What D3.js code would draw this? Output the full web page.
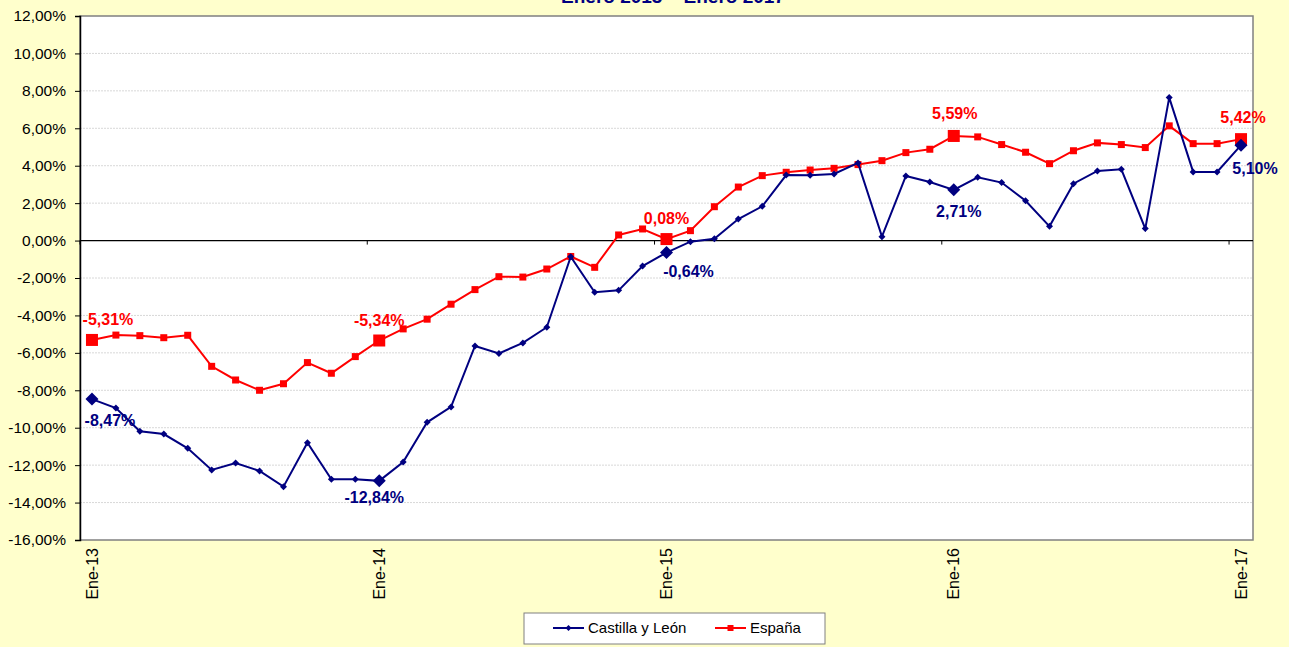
<!DOCTYPE html>
<html lang="es">
<head>
<meta charset="UTF-8">
<script src="https://d3js.org/d3.v7.min.js"></script>
<style>
    body { margin: 0; background: #FFFFCC; overflow: hidden; }
    svg { display: block; font-family: "Liberation Sans", Arial, sans-serif; }
</style>
</head>
<body>
<svg id="chart" width="1289" height="647"></svg>
<script>
    // Data
    const categories = [
        "Ene-13","Feb-13","Mar-13","Abr-13","May-13","Jun-13","Jul-13","Ago-13","Sep-13","Oct-13","Nov-13","Dic-13",
        "Ene-14","Feb-14","Mar-14","Abr-14","May-14","Jun-14","Jul-14","Ago-14","Sep-14","Oct-14","Nov-14","Dic-14",
        "Ene-15","Feb-15","Mar-15","Abr-15","May-15","Jun-15","Jul-15","Ago-15","Sep-15","Oct-15","Nov-15","Dic-15",
        "Ene-16","Feb-16","Mar-16","Abr-16","May-16","Jun-16","Jul-16","Ago-16","Sep-16","Oct-16","Nov-16","Dic-16",
        "Ene-17"
    ];
    const castilla = [
        -8.47, -8.95, -10.19, -10.34, -11.10, -12.26, -11.89, -12.31, -13.15, -10.80, -12.76, -12.76,
        -12.84, -11.83, -9.71, -8.89, -5.63, -6.03, -5.47, -4.63, -0.86, -2.76, -2.66, -1.36,
        -0.64, -0.06, 0.10, 1.15, 1.83, 3.50, 3.49, 3.56, 4.15, 0.21, 3.45, 3.13,
        2.71, 3.38, 3.10, 2.13, 0.76, 3.04, 3.72, 3.81, 0.64, 7.64, 3.67, 3.67,
        5.10
    ];
    const espana = [
        -5.31, -5.05, -5.08, -5.19, -5.06, -6.72, -7.45, -8.00, -7.65, -6.52, -7.09, -6.20,
        -5.34, -4.72, -4.20, -3.40, -2.62, -1.93, -1.95, -1.52, -0.85, -1.43, 0.30, 0.62,
        0.08, 0.53, 1.81, 2.86, 3.47, 3.65, 3.77, 3.86, 4.06, 4.27, 4.70, 4.88,
        5.59, 5.54, 5.13, 4.72, 4.11, 4.80, 5.22, 5.13, 4.97, 6.13, 5.18, 5.18,
        5.42
    ];
    const yTicks = [-16, -14, -12, -10, -8, -6, -4, -2, 0, 2, 4, 6, 8, 10, 12];
    const xLabels = ["Ene-13", "Ene-14", "Ene-15", "Ene-16", "Ene-17"];
    const title = "Enero 2013 – Enero 2017";

    // labelled points (every January) with offsets of the label
    const espLabels = [
        { i: 0, dx: 16, dy: -15 }, { i: 12, dx: 0, dy: -15 }, { i: 24, dx: 0, dy: -15 },
        { i: 36, dx: 1, dy: -17 }, { i: 48, dx: 2, dy: -16 }
    ];
    const cylLabels = [
        { i: 0, dx: 18, dy: 27 }, { i: 12, dx: -5, dy: 22 }, { i: 24, dx: 22, dy: 24 },
        { i: 36, dx: 5, dy: 27 }, { i: 48, dx: 14, dy: 29 }
    ];

    const svg = d3.select("#chart");
    const plotLeft = 80, plotRight = 1253, plotTop = 16, plotBottom = 540;

    const x = d3.scaleBand().domain(categories).range([plotLeft, plotRight]);
    const cx = d => x(d) + x.bandwidth() / 2;
    const y = d3.scaleLinear().domain([-16, 12]).range([plotBottom, plotTop]);

    // Spanish number format, plain hyphen as minus sign
    const locale = d3.formatLocale({ decimal: ",", thousands: ".", grouping: [3], currency: ["", "€"], minus: "-" });
    const fmt = locale.format(".2f");

    // title (mostly cut off at the top, as in the original)
    svg.append("text")
        .attr("x", 673).attr("y", 3)
        .attr("text-anchor", "middle")
        .attr("font-size", 19).attr("font-weight", "bold")
        .attr("fill", "#000080")
        .text(title);

    // plot area
    svg.append("rect")
        .attr("x", plotLeft).attr("y", plotTop)
        .attr("width", plotRight - plotLeft).attr("height", plotBottom - plotTop)
        .attr("fill", "#ffffff")
        .attr("stroke", "#808080").attr("stroke-width", 1.5);

    // gridlines
    svg.append("g")
        .selectAll("line")
        .data(yTicks.filter(t => t !== -16 && t !== 12 && t !== 0))
        .join("line")
        .attr("x1", plotLeft).attr("x2", plotRight)
        .attr("y1", d => y(d)).attr("y2", d => y(d))
        .attr("stroke", "#d8d8d8").attr("stroke-dasharray", "2,1");

    // y axis
    const yAxis = svg.append("g")
        .attr("transform", `translate(${plotLeft},0)`)
        .call(d3.axisLeft(y).tickValues(yTicks).tickSize(5).tickPadding(9)
            .tickFormat(d => fmt(d) + "%"));
    yAxis.select(".domain").attr("stroke", "#000").attr("stroke-width", 1.5);
    yAxis.selectAll(".tick line").attr("stroke", "#000");
    yAxis.selectAll("text").attr("font-size", 15.5).attr("fill", "#000")
        .attr("font-family", "Liberation Sans, Arial, sans-serif");

    // zero line with category ticks
    svg.append("line")
        .attr("x1", plotLeft).attr("x2", plotRight)
        .attr("y1", y(0)).attr("y2", y(0))
        .attr("stroke", "#000").attr("stroke-width", 1.2);
    svg.append("g")
        .selectAll("line")
        .data(xLabels)
        .join("line")
        .attr("x1", d => x(d)).attr("x2", d => x(d))
        .attr("y1", y(0)).attr("y2", y(0) + 4)
        .attr("stroke", "#000");

    // x labels
    svg.append("g")
        .selectAll("text")
        .data(xLabels)
        .join("text")
        .attr("transform", d => `translate(${cx(d)},548) rotate(-90)`)
        .attr("text-anchor", "end")
        .attr("dy", "0.35em")
        .attr("font-size", 16)
        .attr("fill", "#000")
        .text(d => d);

    const line = d3.line().x((d, i) => cx(categories[i])).y(d => y(d));

    const diamond = s => `M0,${-s}L${s},0L0,${s}L${-s},0Z`;

    // España
    svg.append("path").datum(espana)
        .attr("d", line).attr("fill", "none")
        .attr("stroke", "#FF0000").attr("stroke-width", 2);
    svg.append("g").selectAll("rect")
        .data(espana)
        .join("rect")
        .attr("x", (d, i) => cx(categories[i]) - (i % 12 === 0 ? 6 : 3.5))
        .attr("y", (d, i) => y(d) - (i % 12 === 0 ? 6 : 3.5))
        .attr("width", (d, i) => i % 12 === 0 ? 12 : 7)
        .attr("height", (d, i) => i % 12 === 0 ? 12 : 7)
        .attr("fill", "#FF0000");

    // Castilla y León
    svg.append("path").datum(castilla)
        .attr("d", line).attr("fill", "none")
        .attr("stroke", "#000080").attr("stroke-width", 2);
    svg.append("g").selectAll("path")
        .data(castilla)
        .join("path")
        .attr("transform", (d, i) => `translate(${cx(categories[i])},${y(d)})`)
        .attr("d", (d, i) => diamond(i % 12 === 0 ? 6.5 : 3.5))
        .attr("fill", "#000080");

    // data labels
    svg.append("g").selectAll("text")
        .data(espLabels)
        .join("text")
        .attr("x", d => cx(categories[d.i]) + d.dx)
        .attr("y", d => y(espana[d.i]) + d.dy)
        .attr("text-anchor", "middle")
        .attr("font-size", 16).attr("font-weight", "bold")
        .attr("fill", "#FF0000")
        .text(d => fmt(espana[d.i]) + "%");
    svg.append("g").selectAll("text")
        .data(cylLabels)
        .join("text")
        .attr("x", d => cx(categories[d.i]) + d.dx)
        .attr("y", d => y(castilla[d.i]) + d.dy)
        .attr("text-anchor", "middle")
        .attr("font-size", 16).attr("font-weight", "bold")
        .attr("fill", "#000080")
        .text(d => fmt(castilla[d.i]) + "%");

    // legend
    const lg = svg.append("g");
    lg.append("rect")
        .attr("x", 524).attr("y", 613).attr("width", 301).attr("height", 31)
        .attr("fill", "#ffffff").attr("stroke", "#808080");
    const legendItems = [
        { name: "Castilla y León", color: "#000080", x: 553, shape: "diamond" },
        { name: "España", color: "#FF0000", x: 715, shape: "square" }
    ];
    legendItems.forEach(it => {
        lg.append("line")
            .attr("x1", it.x).attr("x2", it.x + 31)
            .attr("y1", 628).attr("y2", 628)
            .attr("stroke", it.color).attr("stroke-width", 2);
        if (it.shape === "diamond") {
            lg.append("path").attr("transform", `translate(${it.x + 15.5},628)`)
                .attr("d", diamond(3)).attr("fill", it.color);
        } else {
            lg.append("rect").attr("x", it.x + 12.5).attr("y", 625)
                .attr("width", 6).attr("height", 6).attr("fill", it.color);
        }
        lg.append("text")
            .attr("x", it.x + 35).attr("y", 633)
            .attr("font-size", 15).attr("fill", "#000")
            .text(it.name);
    });
</script>
</body>
</html>
